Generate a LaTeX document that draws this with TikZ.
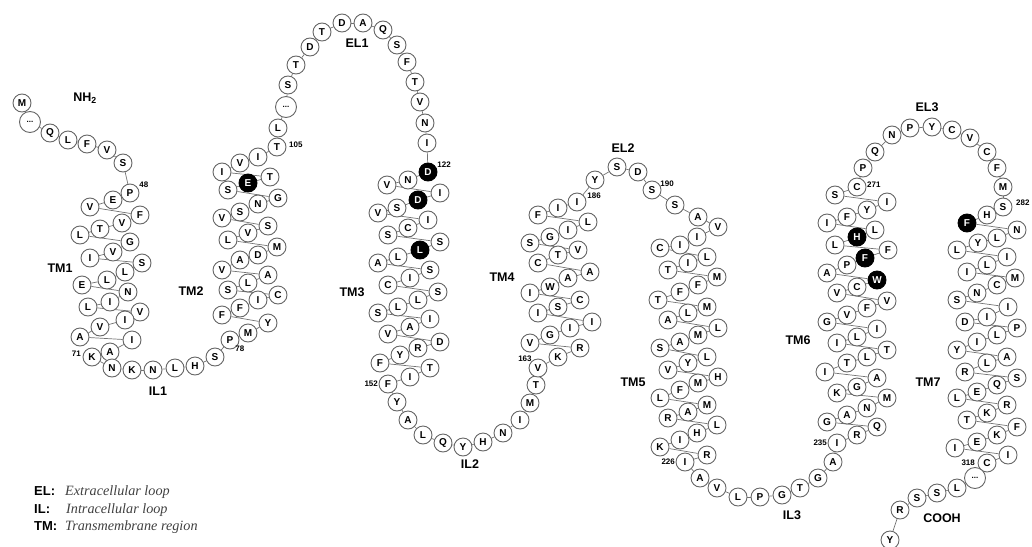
\documentclass[tikz,border=0pt]{standalone}
\usepackage{fontspec}
\setmainfont{Liberation Serif}
\setsansfont{Liberation Sans}
\usepackage{tikz}
\usetikzlibrary{positioning,backgrounds}
\newcommand{\gapdots}{...}
\tikzset{
  aa/.style={circle,draw=black!60,line width=0.9pt,fill=white,minimum size=18pt,inner sep=0pt,
    font=\sffamily\bfseries\fontsize{10}{10}\selectfont},
  aahot/.style={aa,draw=black,fill=black,text=white},
  aagap/.style={aa,minimum size=21pt,font=\sffamily\bfseries\fontsize{8}{8}\selectfont},
  helixlink/.style={draw=black!55,line width=0.7pt},
  numtag/.style={font=\sffamily\bfseries\fontsize{8}{8}\selectfont,inner sep=0.5pt},
  region/.style={font=\sffamily\bfseries\fontsize{12.5}{12.5}\selectfont,inner sep=0pt},
  legkey/.style={font=\sffamily\bfseries\fontsize{13}{13}\selectfont,anchor=base west,inner sep=0pt},
  legtxt/.style={font=\itshape\fontsize{14.2}{14.2}\selectfont,text=black!75,anchor=base west,inner sep=0pt}
}

\begin{document}
\begin{tikzpicture}[x=1pt,y=-1pt]
  \useasboundingbox (0,0) rectangle (1032,546);
  \foreach \x/\y/\aa/\kind [count=\i] in {
    22/103/M/aa, 30/122/\gapdots/aagap, 50/133/Q/aa, 68/140/L/aa, 87/144/F/aa, 107/150/V/aa, 123/163/S/aa,
    130/193/P/aa, 113/200/E/aa, 90/207/V/aa, 140/215/F/aa, 122/223/V/aa, 100/229/T/aa, 80/235/L/aa,
    130/242/G/aa, 113/252/V/aa, 90/258/I/aa, 142/263/S/aa, 125/272/L/aa, 107/280/L/aa, 82/285/E/aa,
    128/292/N/aa, 110/302/I/aa, 88/307/L/aa, 140/312/V/aa, 125/320/I/aa, 100/327/V/aa, 80/337/A/aa,
    132/340/I/aa, 110/352/A/aa, 92/357/K/aa,
    112/368/N/aa, 132/370/K/aa, 153/370/N/aa, 175/368/L/aa, 195/366/H/aa, 215/357/S/aa,
    230/340/P/aa, 248/333/M/aa, 268/323/Y/aa, 222/315/F/aa, 240/308/F/aa, 258/300/I/aa, 278/295/C/aa,
    228/290/S/aa, 248/283/L/aa, 268/275/A/aa, 222/270/V/aa, 240/260/A/aa, 258/255/D/aa, 277/247/M/aa,
    228/240/L/aa, 248/233/V/aa, 268/226/S/aa, 222/218/V/aa, 240/212/S/aa, 258/204/N/aa, 278/198/G/aa,
    228/190/S/aa, 248/183/E/aahot, 270/177/T/aa, 222/172/I/aa, 240/163/V/aa, 258/157/I/aa, 277/147/T/aa,
    278/128/L/aa, 286/107/\gapdots/aagap, 288/85/S/aa, 296/65/T/aa, 310/47/D/aa, 322/32/T/aa, 342/23/D/aa,
    363/23/A/aa, 383/30/Q/aa, 397/45/S/aa, 407/62/F/aa, 415/82/T/aa, 420/102/V/aa, 425/123/N/aa, 427/143/I/aa,
    428/172/D/aahot, 408/180/N/aa, 387/185/V/aa, 440/193/I/aa, 418/200/D/aahot, 397/208/S/aa, 378/213/V/aa,
    428/220/I/aa, 408/228/C/aa, 388/235/S/aa, 440/242/S/aa, 420/250/L/aahot, 398/257/L/aa, 378/263/A/aa,
    430/270/S/aa, 410/278/I/aa, 388/285/C/aa, 438/292/S/aa, 418/300/L/aa, 398/307/L/aa, 378/313/S/aa,
    430/319/I/aa, 410/327/A/aa, 388/334/V/aa, 440/342/D/aa, 418/348/R/aa, 400/355/Y/aa, 380/363/F/aa,
    430/368/T/aa, 410/377/I/aa, 388/384/F/aa,
    397/402/Y/aa, 408/420/A/aa, 423/435/L/aa, 443/443/Q/aa, 463/447/Y/aa, 483/442/H/aa, 503/433/N/aa,
    520/420/I/aa, 530/403/M/aa, 536/385/T/aa,
    538/368/V/aa, 558/357/K/aa, 580/348/R/aa, 530/343/V/aa, 550/335/G/aa, 570/328/I/aa, 592/322/I/aa,
    538/313/I/aa, 558/307/S/aa, 580/300/C/aa, 530/293/I/aa, 550/287/W/aa, 568/278/A/aa, 590/272/A/aa,
    538/263/C/aa, 558/255/T/aa, 578/250/V/aa, 530/243/S/aa, 550/237/G/aa, 568/230/I/aa, 588/222/L/aa,
    538/215/F/aa, 558/208/I/aa, 577/202/I/aa,
    595/180/Y/aa, 617/167/S/aa, 638/172/D/aa,
    652/190/S/aa, 675/205/S/aa, 698/217/A/aa, 718/227/V/aa, 697/237/I/aa, 680/245/I/aa, 660/248/C/aa,
    707/257/L/aa, 688/263/I/aa, 668/270/T/aa, 717/277/M/aa, 698/285/F/aa, 680/292/F/aa, 658/300/T/aa,
    707/307/M/aa, 688/313/L/aa, 668/320/A/aa, 718/328/L/aa, 698/335/M/aa, 680/342/A/aa, 660/348/S/aa,
    707/357/L/aa, 688/363/Y/aa, 668/370/V/aa, 718/377/H/aa, 698/383/M/aa, 680/390/F/aa, 660/398/L/aa,
    707/405/M/aa, 688/412/A/aa, 668/418/R/aa, 717/425/L/aa, 697/433/H/aa, 680/440/I/aa, 660/447/K/aa,
    707/455/R/aa, 685/462/I/aa,
    700/478/A/aa, 717/488/V/aa, 738/497/L/aa, 760/497/P/aa, 782/495/G/aa, 800/488/T/aa, 818/478/G/aa, 833/462/A/aa,
    837/443/I/aa, 857/435/R/aa, 877/427/Q/aa, 827/422/G/aa, 847/415/A/aa, 867/408/N/aa, 887/398/M/aa,
    837/393/K/aa, 857/387/G/aa, 877/378/A/aa, 825/372/I/aa, 847/363/T/aa, 867/357/L/aa, 887/350/T/aa,
    837/343/I/aa, 857/337/L/aa, 877/329/I/aa, 827/322/G/aa, 847/315/V/aa, 867/308/F/aa, 887/301/V/aa,
    837/293/V/aa, 857/287/C/aa, 877/280/W/aahot, 827/273/A/aa, 847/265/P/aa, 865/258/F/aahot, 888/250/F/aa,
    835/245/L/aa, 857/237/H/aahot, 875/230/L/aa, 827/223/I/aa, 847/217/F/aa, 867/210/Y/aa, 887/202/I/aa,
    835/195/S/aa, 857/187/C/aa,
    863/168/P/aa, 875/152/Q/aa, 892/135/N/aa, 910/128/P/aa, 932/127/Y/aa, 952/130/C/aa, 970/138/V/aa,
    987/152/C/aa, 997/168/F/aa, 1003/187/M/aa,
    1003/207/S/aa, 987/215/H/aa, 967/223/F/aahot, 1017/230/N/aa, 997/238/L/aa, 978/243/Y/aa, 957/250/L/aa,
    1007/257/I/aa, 987/265/L/aa, 967/272/I/aa, 1015/278/M/aa, 997/285/C/aa, 977/293/N/aa, 957/300/S/aa,
    1008/307/I/aa, 987/317/I/aa, 965/322/D/aa, 1017/328/P/aa, 997/335/L/aa, 977/342/I/aa, 957/350/Y/aa,
    1007/357/A/aa, 987/363/L/aa, 965/372/R/aa, 1017/378/S/aa, 997/385/Q/aa, 977/392/E/aa, 957/398/L/aa,
    1007/405/R/aa, 987/413/K/aa, 967/420/T/aa, 1017/427/F/aa, 997/435/K/aa, 977/442/E/aa, 955/448/I/aa,
    1008/455/I/aa, 987/463/C/aa,
    975/478/\gapdots/aagap, 957/488/L/aa, 937/493/S/aa, 917/498/S/aa, 900/510/R/aa, 890/540/Y/aa}
    \node[\kind] (r\i) at (\x,\y) {\aa};
  \begin{scope}[on background layer]
    \foreach \i [remember=\i as \prev (initially 1)] in {2,...,283}
      \draw[helixlink] (r\prev) -- (r\i);
  \end{scope}

  \node[numtag,above right=-2pt and 2pt of r8] (n48) {48};
  \node[numtag,left=1pt of r31,yshift=3pt] (n71) {71};
  \node[numtag,below right=-1pt and -2pt of r38] (n78) {78};
  \node[numtag,right=2pt of r65,yshift=2pt] (n105) {105};
  \node[numtag,above right=-3pt and 2pt of r81] (n122) {122};
  \node[numtag,left=0pt of r111] (n152) {152};
  \node[numtag,above left=-1pt and -1pt of r122] (n163) {163};
  \node[numtag,above right=-4pt and 3pt of r145] (n186) {186};
  \node[numtag,above right=-4pt and 1pt of r149] (n190) {190};
  \node[numtag,left=0pt of r185] (n226) {226};
  \node[numtag,left=0pt of r194] (n235) {235};
  \node[numtag,right=0pt of r230,yshift=2pt] (n271) {271};
  \node[numtag,right=3pt of r241,yshift=4pt] (n282) {282};
  \node[numtag,left=2pt of r277] (n318) {318};

  \node[region] (nterm) at (85,98) {NH\textsubscript{2}};
  \node[region] (tm1) at (60,268) {TM1};
  \node[region] (il1) at (158,391) {IL1};
  \node[region] (tm2) at (191,291) {TM2};
  \node[region] (el1) at (357,43) {EL1};
  \node[region] (tm3) at (352,292) {TM3};
  \node[region] (il2) at (470,464) {IL2};
  \node[region] (tm4) at (502,277) {TM4};
  \node[region] (el2) at (623,148) {EL2};
  \node[region] (tm5) at (633,382) {TM5};
  \node[region] (il3) at (792,515) {IL3};
  \node[region] (tm6) at (798,340) {TM6};
  \node[region] (el3) at (927,107) {EL3};
  \node[region] (tm7) at (928,382) {TM7};
  \node[region] (cterm) at (942,518) {COOH};

  \node[legkey] (kel) at (34,495) {EL:};
  \node[legtxt] (tel) at (65,495) {Extracellular loop};
  \node[legkey] (kil) at (34,513) {IL:};
  \node[legtxt] (til) at (66,513) {Intracellular loop};
  \node[legkey] (ktm) at (34,530) {TM:};
  \node[legtxt] (ttm) at (65,530) {Transmembrane region};
\end{tikzpicture}
\end{document}
